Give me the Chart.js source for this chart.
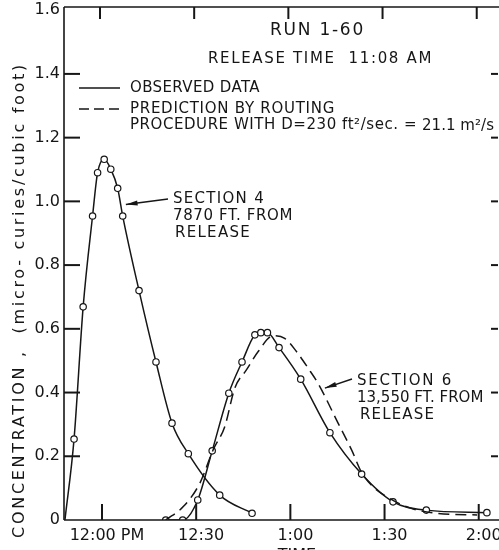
<!DOCTYPE html>
<html lang="en">
<head>
    <meta charset="UTF-8">
    <title>Run 1-60 - Concentration vs Time</title>
    <script src="https://cdn.jsdelivr.net/npm/chart.js@4.4.0/dist/chart.umd.min.js"></script>
    <style>
        body {
            margin: 0;
            background: #ffffff;
        }
        .chart-box {
            width: 499px;
            height: 550px;
        }
    </style>
</head>
<body>
    <div class="chart-box">
        <canvas id="runChart" width="499" height="550"></canvas>
    </div>

    <script>
        // time in minutes after 12:00 PM, concentration in micro-curies/cubic foot
        const sec4Time = [-11.8, -8.9, -6.0, -3.0, -1.4, 0.7, 2.8, 5.0, 6.6, 11.8, 17.2, 22.3, 27.5, 37.5, 47.8];
        const sec4Conc = [0, 0.254, 0.669, 0.954, 1.090, 1.132, 1.101, 1.041, 0.954, 0.720, 0.496, 0.304, 0.208, 0.078, 0.021];

        const sec6Time = [20.3, 25.7, 30.5, 35.1, 40.4, 44.6, 48.7, 50.6, 52.7, 56.4, 63.3, 72.6, 82.7, 92.7, 103.3, 122.6];
        const sec6Conc = [0, 0, 0.063, 0.217, 0.398, 0.496, 0.581, 0.588, 0.588, 0.541, 0.442, 0.274, 0.144, 0.057, 0.031, 0.023];

        const predTime = [20.3, 25.9, 31.2, 35.4, 39.1, 42.3, 46.0, 49.7, 54.5, 58.2, 62.0, 65.7, 68.8, 75.2, 79.5, 83.0, 93.0, 106.5, 119.5];
        const predConc = [0, 0.042, 0.116, 0.220, 0.293, 0.414, 0.471, 0.528, 0.578, 0.570, 0.528, 0.476, 0.429, 0.304, 0.220, 0.144, 0.060, 0.021, 0.016];

        const xTickValues = [0, 30, 60, 90, 120];
        const xTickLabels = ['12:00 PM', '12:30', '1:00', '1:30', '2:00'];
        const yTickValues = [0, 0.2, 0.4, 0.6, 0.8, 1.0, 1.2, 1.4, 1.6];
        const yTickLabels = ['0', '0.2', '0.4', '0.6', '0.8', '1.0', '1.2', '1.4', '1.6'];

        const INK = '#161616';
        const FONT = '"DejaVu Sans", sans-serif';

        function toPoints(xs, ys) {
            return xs.map((x, i) => ({ x: x, y: ys[i] }));
        }

        // text stretched to the width of the hand lettering
        function fitText(ctx, str, x, y, size, width, font) {
            ctx.font = size + 'px ' + (font || FONT);
            ctx.letterSpacing = '0px';
            const w = ctx.measureText(str).width;
            const extra = (width - w) / str.length;
            ctx.letterSpacing = (extra > 0 ? extra : 0) + 'px';
            ctx.fillText(str, x, y);
            ctx.letterSpacing = '0px';
        }

        function seg(ctx, x1, y1, x2, y2) {
            ctx.beginPath();
            ctx.moveTo(x1, y1);
            ctx.lineTo(x2, y2);
            ctx.stroke();
        }

        function arrow(ctx, x1, y1, x2, y2) {
            const ang = Math.atan2(y2 - y1, x2 - x1);
            seg(ctx, x1, y1, x2, y2);
            ctx.beginPath();
            ctx.moveTo(x2, y2);
            ctx.lineTo(x2 - 12 * Math.cos(ang - 0.22), y2 - 12 * Math.sin(ang - 0.22));
            ctx.lineTo(x2 - 12 * Math.cos(ang + 0.22), y2 - 12 * Math.sin(ang + 0.22));
            ctx.closePath();
            ctx.fill();
        }

        const framePlugin = {
            id: 'frame',
            afterDraw(chart) {
                const ctx = chart.ctx;
                const a = chart.chartArea;
                const xs = chart.scales.x;
                const ys = chart.scales.y;
                const right = 498;
                ctx.save();
                ctx.setLineDash([]);
                ctx.fillStyle = INK;
                ctx.strokeStyle = INK;
                ctx.lineWidth = 1.6;

                // box
                seg(ctx, a.left, a.top, a.left, a.bottom);
                seg(ctx, a.left, a.bottom, 499, a.bottom);
                seg(ctx, a.left, a.top, 499, a.top);

                // inward tick marks
                ctx.lineWidth = 2;
                for (let i = 1; i < yTickValues.length - 1; i++) {
                    const py = ys.getPixelForValue(yTickValues[i]);
                    seg(ctx, a.left, py, a.left + 16, py);
                    seg(ctx, right, py, right - 7, py);
                }
                for (let i = 0; i < xTickValues.length; i++) {
                    const px = xs.getPixelForValue(xTickValues[i]);
                    seg(ctx, px, a.bottom, px, a.bottom - 16);
                    seg(ctx, px - 2, a.top, px - 2, a.top + 12);
                }
                ctx.lineWidth = 1.5;

                // y title
                ctx.save();
                ctx.translate(20, 300);
                ctx.rotate(-Math.PI / 2);
                ctx.textAlign = 'center';
                ctx.textBaseline = 'middle';
                fitText(ctx, 'CONCENTRATION ,  (micro- curies/cubic foot)', 0, 0, 16, 476);
                ctx.restore();

                // x title (cut by the bottom edge)
                ctx.textAlign = 'center';
                ctx.textBaseline = 'top';
                ctx.font = '16px ' + FONT;
                ctx.fillText('TIME', 297, 548);

                // header and legend
                ctx.textAlign = 'left';
                ctx.textBaseline = 'middle';
                fitText(ctx, 'RUN 1-60', 270, 31, 17, 95);
                fitText(ctx, 'RELEASE TIME  11:08 AM', 208, 59, 15, 225);
                fitText(ctx, 'OBSERVED DATA', 130, 88, 15, 130);
                fitText(ctx, 'PREDICTION BY ROUTING', 130, 109, 15, 205);
                fitText(ctx, 'PROCEDURE WITH D=230 ft\u00B2/sec. =', 130, 125, 15, 287);
                fitText(ctx, '21.1 m\u00B2/s', 422, 126, 15, 72, 'italic bold "DejaVu Serif", serif');

                seg(ctx, 79, 88, 120, 88);
                ctx.setLineDash([10, 5]);
                seg(ctx, 79, 109, 122, 109);
                ctx.setLineDash([]);

                // section labels
                fitText(ctx, 'SECTION 4', 173, 199, 15, 92);
                fitText(ctx, '7870 FT. FROM', 173, 216, 15, 120);
                fitText(ctx, 'RELEASE', 175, 233, 15, 76);
                fitText(ctx, 'SECTION 6', 357, 381, 15, 96);
                fitText(ctx, '13,550 FT. FROM', 357, 398, 15, 125);
                fitText(ctx, 'RELEASE', 360, 415, 15, 75);

                ctx.lineWidth = 1.4;
                arrow(ctx, 168, 199, xs.getPixelForValue(7.6), ys.getPixelForValue(0.99));
                arrow(ctx, 352, 379, xs.getPixelForValue(71), ys.getPixelForValue(0.414));
                ctx.restore();
            }
        };

        const lineStyle = {
            showLine: true,
            borderColor: INK,
            borderWidth: 1.5,
            cubicInterpolationMode: 'monotone',
            pointBackgroundColor: '#ffffff',
            pointBorderColor: INK,
            pointBorderWidth: 1.2
        };

        new Chart(document.getElementById('runChart'), {
            type: 'scatter',
            data: {
                datasets: [
                    Object.assign({}, lineStyle, {
                        label: 'Section 4 observed',
                        data: toPoints(sec4Time, sec4Conc),
                        pointRadius: sec4Time.map((t, i) => i === 0 ? 0 : 3.2)
                    }),
                    Object.assign({}, lineStyle, {
                        label: 'Section 6 predicted',
                        data: toPoints(predTime, predConc),
                        borderDash: [11, 6],
                        pointRadius: 0
                    }),
                    Object.assign({}, lineStyle, {
                        label: 'Section 6 observed',
                        data: toPoints(sec6Time, sec6Conc),
                        pointRadius: 3.2
                    })
                ]
            },
            options: {
                responsive: false,
                animation: false,
                layout: { padding: { top: 7, right: 0, left: 0, bottom: 0 } },
                plugins: {
                    legend: { display: false },
                    tooltip: { enabled: false }
                },
                scales: {
                    x: {
                        type: 'linear',
                        min: -12.1,
                        max: 124.8,
                        grid: { display: false, drawTicks: false },
                        border: { display: false },
                        afterBuildTicks: s => { s.ticks = xTickValues.map(v => ({ value: v })); },
                        afterFit: s => { s.height = 30; s.paddingLeft = 0; s.paddingRight = 0; },
                        ticks: {
                            autoSkip: false,
                            maxRotation: 0,
                            padding: 6,
                            labelOffset: 5,
                            color: INK,
                            font: { family: FONT, size: 16 },
                            callback: v => xTickLabels[xTickValues.indexOf(v)]
                        }
                    },
                    y: {
                        min: 0,
                        max: 1.61,
                        grid: { display: false, drawTicks: false },
                        border: { display: false },
                        afterBuildTicks: s => { s.ticks = yTickValues.map(v => ({ value: v })); },
                        afterFit: s => { s.width = 64; s.paddingTop = 0; s.paddingBottom = 0; },
                        ticks: {
                            padding: 4,
                            color: INK,
                            font: { family: FONT, size: 16 },
                            callback: v => yTickLabels[yTickValues.indexOf(v)]
                        }
                    }
                }
            },
            plugins: [framePlugin]
        });
    </script>
</body>
</html>
